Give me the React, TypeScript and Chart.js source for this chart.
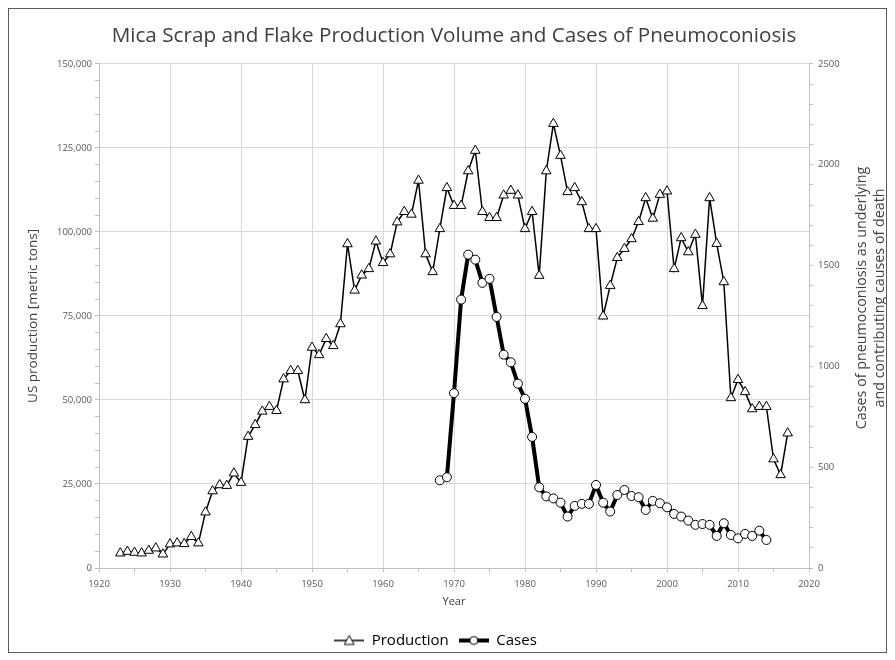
import React, { useEffect, useRef } from 'react';
import { Chart, registerables } from 'chart.js';

Chart.register(...registerables);

const TITLE = 'Mica Scrap and Flake Production Volume and Cases of Pneumoconiosis';
const X_TITLE = 'Year';
const LEFT_TITLE = 'US production [metric tons]';
const RIGHT_TITLE = ['Cases of pneumoconiosis as underlying', 'and contributing causes of death'];
const SERIES_NAMES = ['Production', 'Cases'];

const productionYears = [
  1923, 1924, 1925, 1926, 1927, 1928, 1929, 1930, 1931, 1932,
  1933, 1934, 1935, 1936, 1937, 1938, 1939, 1940, 1941, 1942,
  1943, 1944, 1945, 1946, 1947, 1948, 1949, 1950, 1951, 1952,
  1953, 1954, 1955, 1956, 1957, 1958, 1959, 1960, 1961, 1962,
  1963, 1964, 1965, 1966, 1967, 1968, 1969, 1970, 1971, 1972,
  1973, 1974, 1975, 1976, 1977, 1978, 1979, 1980, 1981, 1982,
  1983, 1984, 1985, 1986, 1987, 1988, 1989, 1990, 1991, 1992,
  1993, 1994, 1995, 1996, 1997, 1998, 1999, 2000, 2001, 2002,
  2003, 2004, 2005, 2006, 2007, 2008, 2009, 2010, 2011, 2012,
  2013, 2014, 2015, 2016, 2017,
];

const productionTons = [
  4400, 4900, 4600, 4400, 5200, 5900, 4100, 7100, 7400, 7200,
  9300, 7400, 16600, 22900, 24700, 24500, 28200, 25400, 39100, 42600,
  46600, 48000, 46800, 56200, 58700, 58700, 50000, 65600, 63400, 68200,
  66100, 72600, 96400, 82600, 87100, 89000, 97200, 90800, 93400, 102900,
  106000, 105200, 115300, 93400, 88100, 100900, 113100, 107800, 107800, 118100,
  124200, 106000, 104200, 104200, 110900, 112300, 110900, 100900, 106000, 87000,
  118100, 132200, 122700, 111900, 113100, 108900, 100900, 100900, 74900, 84000,
  92300, 95000, 97900, 103000, 110100, 104000, 111100, 112100, 89000, 98200,
  94000, 99200, 78000, 110100, 96500, 85100, 50600, 56000, 52400, 47300,
  48000, 48000, 32400, 27700, 40100,
];

const caseYears = [
  1968, 1969, 1970, 1971, 1972, 1973, 1974, 1975, 1976, 1977,
  1978, 1979, 1980, 1981, 1982, 1983, 1984, 1985, 1986, 1987,
  1988, 1989, 1990, 1991, 1992, 1993, 1994, 1995, 1996, 1997,
  1998, 1999, 2000, 2001, 2002, 2003, 2004, 2005, 2006, 2007,
  2008, 2009, 2010, 2011, 2012, 2013, 2014,
];

const caseCounts = [
  435, 450, 867, 1331, 1554, 1529, 1414, 1434, 1245, 1058,
  1020, 914, 839, 650, 400, 355, 345, 324, 255, 308,
  318, 318, 412, 324, 280, 362, 387, 357, 351, 288,
  333, 321, 301, 268, 255, 235, 214, 218, 214, 159,
  222, 164, 147, 169, 159, 185, 139,
];

const FONT = '"Open Sans", "DejaVu Sans", sans-serif';
const TICK_COLOR = '#595959';
const TEXT_COLOR = '#404040';
const GRID = '#d9d9d9';
const AXIS = '#bfbfbf';

function legendIcon(kind: 'tri' | 'circ'): HTMLCanvasElement {
  const c = document.createElement('canvas');
  c.width = 30;
  c.height = 14;
  const g = c.getContext('2d') as CanvasRenderingContext2D;
  g.strokeStyle = '#000';
  g.lineWidth = kind === 'tri' ? 1.5 : 4;
  g.beginPath();
  g.moveTo(0, 7);
  g.lineTo(30, 7);
  g.stroke();
  g.fillStyle = '#fff';
  g.lineWidth = 1;
  g.beginPath();
  if (kind === 'tri') {
    g.moveTo(15, 2);
    g.lineTo(20, 11);
    g.lineTo(10, 11);
    g.closePath();
  } else {
    g.arc(15, 7, 4, 0, Math.PI * 2);
  }
  g.fill();
  g.stroke();
  return c;
}

const rightTitlePlugin = {
  id: 'rightTitle',
  afterDraw(chart: any) {
    const { ctx, chartArea } = chart;
    const scale = chart.scales.y1;
    const cy = (chartArea.top + chartArea.bottom) / 2 - 18;
    ctx.save();
    ctx.font = `14.3px ${FONT}`;
    ctx.fillStyle = TEXT_COLOR;
    ctx.textAlign = 'center';
    ctx.textBaseline = 'middle';
    RIGHT_TITLE.forEach((t, i) => {
      ctx.save();
      ctx.translate(scale.left + 53 + i * 18, cy);
      ctx.rotate(-Math.PI / 2);
      ctx.fillText(t, 0, 0);
      ctx.restore();
    });
    ctx.restore();
  },
};

export default function App() {
  const ref = useRef<HTMLCanvasElement | null>(null);

  useEffect(() => {
    if (!ref.current) return;
    const icons = [legendIcon('tri'), legendIcon('circ')];
    const chart = new Chart(ref.current, {
      type: 'line',
      data: {
        datasets: [
          {
            label: SERIES_NAMES[0],
            data: productionYears.map((y, i) => ({ x: y, y: productionTons[i] })),
            yAxisID: 'y',
            borderColor: '#000',
            borderWidth: 1.5,
            pointStyle: 'triangle',
            pointRadius: 5.5,
            pointBackgroundColor: '#fff',
            pointBorderColor: '#000',
            pointBorderWidth: 1,
            tension: 0,
            order: 1,
          },
          {
            label: SERIES_NAMES[1],
            data: caseYears.map((y, i) => ({ x: y, y: caseCounts[i] })),
            yAxisID: 'y1',
            borderColor: '#000',
            borderWidth: 4,
            pointStyle: 'circle',
            pointRadius: 4.5,
            pointBackgroundColor: '#fff',
            pointBorderColor: '#000',
            pointBorderWidth: 1,
            tension: 0,
            order: 0,
          },
        ],
      },
      options: {
        animation: false,
        responsive: false,
        maintainAspectRatio: false,
        layout: { padding: 0 },
        plugins: {
          title: {
            display: true,
            text: TITLE,
            color: TEXT_COLOR,
            fullSize: false,
            font: { family: FONT, size: 20.7, weight: 'normal' },
            padding: { top: 15, bottom: 15 },
          },
          legend: {
            display: true,
            position: 'bottom',
            labels: {
              usePointStyle: true,
              pointStyleWidth: 30,
              padding: 10,
              color: '#000',
              font: { family: FONT, size: 15 },
              generateLabels: () =>
                SERIES_NAMES.map((name, i) => ({
                  text: name,
                  pointStyle: icons[i] as any,
                  fillStyle: '#fff',
                  strokeStyle: '#000',
                  lineWidth: 0,
                  hidden: false,
                  datasetIndex: i,
                  fontColor: '#000',
                })),
            },
          },
          tooltip: { enabled: false },
        },
        scales: {
          x: {
            type: 'linear',
            min: 1920,
            max: 2020,
            afterFit: (s: any) => { s.height = 55; },
            ticks: {
              stepSize: 5,
              autoSkip: false,
              maxRotation: 0,
              padding: 7,
              color: TICK_COLOR,
              font: { family: FONT, size: 9.5 },
              callback: (v: any) => (Number(v) % 10 === 0 ? String(v) : ''),
            },
            grid: {
              color: (c: any) => (c.tick && c.tick.value % 10 === 0 ? GRID : 'rgba(0,0,0,0)'),
              tickColor: AXIS,
              tickLength: 4,
            },
            border: { color: AXIS },
            title: {
              display: true,
              text: X_TITLE,
              color: TEXT_COLOR,
              font: { family: FONT, size: 11 },
              padding: { top: 0, bottom: 14.5 },
            },
          },
          y: {
            type: 'linear',
            position: 'left',
            min: 0,
            max: 150000,
            afterFit: (s: any) => { s.width = 118; },
            ticks: {
              stepSize: 5000,
              autoSkip: false,
              padding: 3,
              color: TICK_COLOR,
              font: { family: FONT, size: 9.5 },
              callback: (v: any) => (Number(v) % 25000 === 0 ? Number(v).toLocaleString('en-US') : ''),
            },
            grid: {
              color: (c: any) => (c.tick && c.tick.value % 25000 === 0 ? GRID : 'rgba(0,0,0,0)'),
              tickColor: AXIS,
              tickLength: 4,
            },
            border: { color: AXIS },
            title: {
              display: true,
              text: LEFT_TITLE,
              color: TEXT_COLOR,
              font: { family: FONT, size: 13.5 },
              padding: { top: 44, bottom: 0 },
            },
          },
          y1: {
            type: 'linear',
            position: 'right',
            min: 0,
            max: 2500,
            afterFit: (s: any) => { s.width = 81; },
            ticks: {
              stepSize: 100,
              autoSkip: false,
              padding: 5,
              color: TICK_COLOR,
              font: { family: FONT, size: 9.5 },
              callback: (v: any) => (Number(v) % 500 === 0 ? String(v) : ''),
            },
            grid: {
              drawOnChartArea: false,
              tickColor: AXIS,
              tickLength: 4,
            },
            border: { color: AXIS },
          },
        },
      },
      plugins: [rightTitlePlugin],
    });
    return () => chart.destroy();
  }, []);

  return (
    <div
      style={{
        position: 'relative',
        width: 879,
        height: 645,
        border: '1px solid #595959',
        boxSizing: 'border-box',
        fontFamily: FONT,
      }}
    >
      <canvas
        ref={ref}
        width={909}
        height={649}
        style={{ position: 'absolute', left: -28, top: 0, width: 909, height: 649 }}
      />
    </div>
  );
}
